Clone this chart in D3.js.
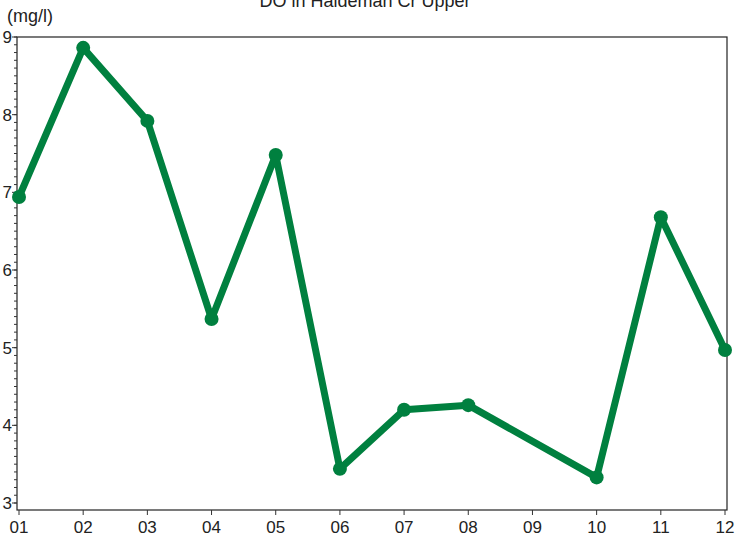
<!DOCTYPE html>
<html><head><meta charset="utf-8">
<script src="https://cdn.jsdelivr.net/npm/d3@7"></script>
<style>body{margin:0;background:#fff}svg{display:block;font-family:"Liberation Sans",Arial,sans-serif}</style>
</head><body><svg id="c" width="738" height="543"></svg>
<script>
const title = "DO in Haldeman Cr Upper";
const unit = "(mg/l)";
const months = ["01","02","03","04","05","06","07","08","09","10","11","12"];
const values = [6.94, 8.86, 7.92, 5.37, 7.48, 3.44, 4.20, 4.26, null, 3.33, 6.68, 4.97];
const yTicks = [3,4,5,6,7,8,9];

const svg = d3.select("#c");
const L = 17, R = 727, T = 37, B = 510;
const x = d3.scalePoint().domain(months).range([19, 725]);
const y = d3.scaleLinear().domain([2.91, 9]).range([B, T]);
const color = "#00803f";

// frame
svg.append("rect").attr("x", L).attr("y", T).attr("width", R - L).attr("height", B - T)
  .attr("fill", "none").attr("stroke", "#222").attr("stroke-width", 1.2);

// y axis
const yMinor = d3.range(30, 91).map(d => d / 10);
const ya = svg.append("g").attr("transform", `translate(${L},0)`);
ya.selectAll("line.mn").data(yMinor).join("line")
  .attr("x1", -3).attr("x2", 0).attr("y1", d => y(d)).attr("y2", d => y(d))
  .attr("stroke", "#333").attr("stroke-width", 1);
ya.selectAll("line.mj").data(yTicks).join("line")
  .attr("x1", -5).attr("x2", 0).attr("y1", d => y(d)).attr("y2", d => y(d))
  .attr("stroke", "#333").attr("stroke-width", 1);
ya.selectAll("text").data(yTicks).join("text")
  .attr("x", -5).attr("y", d => y(d)).attr("dy", "0.36em").attr("text-anchor", "end")
  .attr("font-size", 17).attr("fill", "#222").text(d => d);

// x axis
const xa = svg.append("g").attr("transform", `translate(0,${B})`);
xa.selectAll("line").data(months).join("line")
  .attr("x1", d => x(d)).attr("x2", d => x(d)).attr("y1", 0).attr("y2", 5)
  .attr("stroke", "#333");
xa.selectAll("text").data(months).join("text")
  .attr("x", d => x(d)).attr("y", 23).attr("text-anchor", "middle")
  .attr("font-size", 17).attr("fill", "#222").text(d => d);

// labels
svg.append("text").attr("x", 7).attr("y", 22).attr("font-size", 18).attr("fill", "#222").text(unit);
svg.append("text").attr("x", 365).attr("y", 7).attr("text-anchor", "middle")
  .attr("font-size", 18).attr("fill", "#222").text(title);

// data
const pts = months.map((m, i) => ({m, v: values[i]})).filter(d => d.v != null);
const line = d3.line().x(d => x(d.m)).y(d => y(d.v));
svg.append("path").datum(pts).attr("d", line).attr("fill", "none")
  .attr("stroke", color).attr("stroke-width", 7).attr("stroke-linejoin", "round");
svg.selectAll("circle.p").data(pts).join("circle")
  .attr("cx", d => x(d.m)).attr("cy", d => y(d.v)).attr("r", 7).attr("fill", color);
</script></body></html>
